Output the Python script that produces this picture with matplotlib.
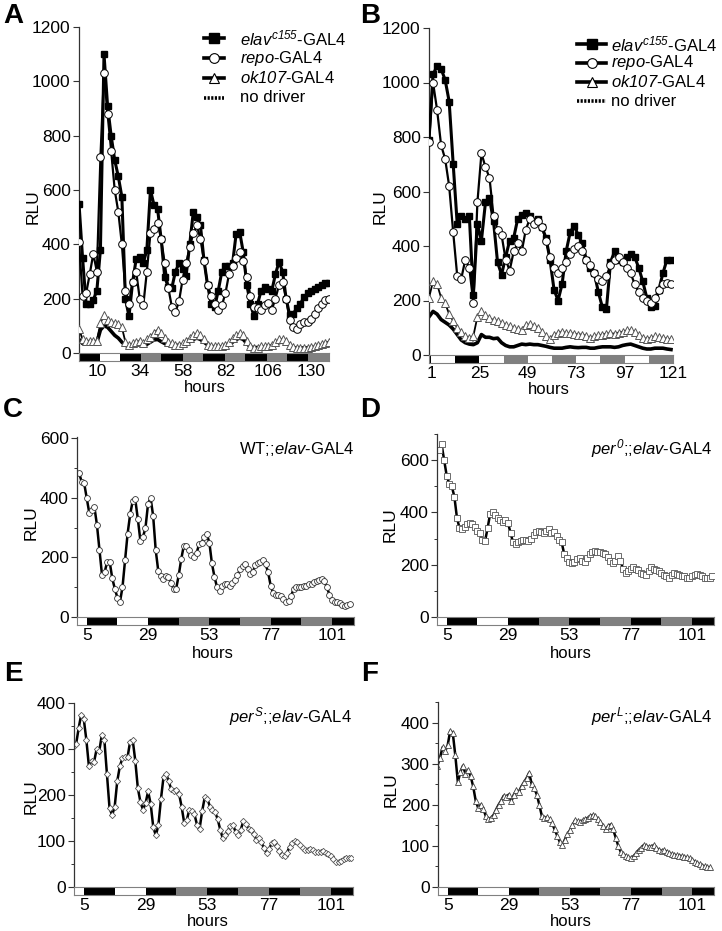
import matplotlib
matplotlib.use("Agg")
import matplotlib.pyplot as plt
import numpy as np
from matplotlib.lines import Line2D
from matplotlib.patches import Rectangle
from matplotlib.ticker import MultipleLocator

plt.rcParams['font.family'] = ['Liberation Sans', 'DejaVu Sans']
# everything inside $...$ is italic (gene names), digits included
plt.rcParams['mathtext.fontset'] = 'custom'
plt.rcParams['mathtext.rm'] = 'Liberation Sans:italic'
plt.rcParams['mathtext.it'] = 'Liberation Sans:italic'
plt.rcParams['mathtext.bf'] = 'Liberation Sans:bold'

# ---------------- data ----------------
# panel A: 2-hourly samples, hours 0..140
a_elav = [550, 350, 180, 180, 195, 230, 380, 1100, 910, 800, 710, 650, 575, 200, 135, 260,
          345, 355, 330, 380, 600, 545, 530, 420, 280, 243, 240, 300, 330, 310, 285, 400,
          519, 500, 470, 341, 250, 182, 170, 230, 300, 320, 320, 330, 439, 445, 370, 250,
          180, 135, 180, 230, 243, 235, 230, 290, 335, 300, 200, 139, 145, 165, 182, 205,
          220, 230, 237, 243, 250, 258, 258]
a_repo = [410, 210, 220, 290, 365, 300, 720, 1030, 880, 745, 600, 520, 400, 230, 180, 260,
          300, 200, 175, 300, 440, 455, 480, 420, 330, 240, 170, 150, 190, 270, 330, 390,
          440, 470, 420, 340, 250, 210, 180, 160, 175, 220, 290, 320, 350, 370, 340, 280,
          210, 170, 165, 160, 175, 185, 160, 200, 250, 260, 200, 120, 95, 90, 105, 115,
          115, 125, 145, 165, 180, 195, 200]
a_ok107 = [90, 50, 45, 45, 45, 45, 110, 140, 120, 115, 110, 105, 95, 40, 30, 35,
           40, 45, 35, 50, 60, 75, 85, 75, 55, 40, 35, 30, 30, 35, 45, 55,
           65, 72, 65, 50, 30, 25, 25, 25, 25, 30, 40, 55, 65, 72, 65, 45,
           25, 20, 20, 25, 25, 25, 30, 40, 50, 52, 45, 30, 22, 20, 20, 20,
           20, 22, 25, 28, 32, 38, 42]
a_nodrv = [50, 35, 35, 35, 35, 38, 85, 100, 95, 80, 65, 55, 40, 28, 25, 28,
           30, 30, 28, 32, 40, 48, 50, 42, 35, 30, 28, 28, 28, 30, 35, 42,
           50, 55, 50, 40, 30, 25, 22, 22, 22, 25, 30, 40, 50, 55, 50, 35,
           22, 20, 20, 20, 20, 22, 25, 30, 38, 42, 38, 28, 20, 18, 18, 18,
           18, 18, 20, 22, 25, 28, 32]
a_hours = np.arange(0, 2 * len(a_elav), 2)

# panel B: 2-hourly samples, hours 0..120
b_elav = [790, 1030, 1060, 1050, 1010, 930, 700, 480, 510, 500, 510, 220, 480, 420, 560, 575,
          490, 340, 295, 360, 420, 430, 500, 515, 520, 510, 490, 500, 470, 430, 350, 240,
          200, 260, 380, 450, 475, 440, 410, 350, 320, 300, 230, 175, 170, 340, 380, 350,
          340, 360, 370, 360, 320, 270, 210, 175, 180, 240, 300, 350, 350]
b_repo = [780, 1000, 900, 770, 720, 620, 450, 290, 280, 350, 320, 190, 560, 740, 690, 650,
          510, 460, 440, 350, 310, 380, 410, 380, 460, 500, 480, 490, 470, 420, 360, 320,
          300, 320, 340, 370, 390, 400, 380, 350, 330, 300, 280, 270, 290, 330, 350, 360,
          340, 320, 300, 260, 230, 210, 200, 190, 210, 240, 260, 265, 260]
b_ok107 = [210, 270, 260, 210, 190, 150, 125, 100, 85, 70, 62, 70, 140, 160, 145, 135,
           128, 125, 118, 110, 105, 98, 95, 92, 110, 112, 105, 100, 85, 70, 60, 75,
           80, 85, 80, 80, 78, 75, 75, 70, 62, 70, 72, 75, 78, 80, 78, 82,
           85, 90, 92, 85, 75, 62, 60, 62, 68, 65, 62, 60, 58]
b_nodrv = [140, 160, 150, 130, 120, 110, 95, 75, 55, 45, 40, 38, 45, 75, 65, 65,
           60, 62, 45, 35, 30, 30, 35, 40, 38, 40, 38, 38, 35, 32, 28, 25,
           25, 25, 28, 30, 28, 27, 28, 28, 25, 25, 28, 30, 30, 30, 28, 30,
           35, 38, 40, 35, 30, 25, 22, 22, 25, 25, 25, 22, 20]
b_hours = np.arange(0, 2 * len(b_elav), 2)

# panels C-F: hourly samples
c_wt = [485, 455, 450, 400, 350, 360, 370, 310, 225, 140, 150, 185, 185, 130, 95, 65,
        50, 100, 190, 280, 345, 390, 395, 330, 257, 268, 300, 380, 400, 340, 225, 155,
        138, 128, 138, 135, 115, 95, 95, 140, 195, 240, 240, 225, 210, 200, 215, 245,
        250, 270, 278, 250, 180, 135, 100, 88, 105, 112, 110, 105, 115, 125, 140, 160,
        170, 178, 160, 145, 150, 175, 180, 185, 190, 178, 150, 105, 80, 75, 75, 70,
        60, 52, 55, 70, 95, 100, 100, 100, 105, 105, 110, 112, 118, 120, 125, 128,
        120, 100, 75, 58, 52, 50, 48, 42, 38, 40, 45]
c_hours = np.arange(2, 2 + len(c_wt))

d_per0 = [640, 660, 600, 540, 510, 500, 460, 380, 340, 335, 345, 355, 360, 355, 345, 330,
          320, 295, 290, 340, 395, 400, 390, 378, 370, 365, 372, 360, 320, 285, 280, 285,
          290, 295, 295, 290, 300, 315, 325, 330, 325, 320, 330, 335, 320, 325, 310, 295,
          285, 240, 225, 210, 205, 210, 220, 225, 215, 210, 225, 240, 250, 252, 250, 248,
          245, 240, 230, 215, 205, 215, 235, 215, 185, 170, 175, 185, 190, 185, 180, 170,
          165, 160, 175, 190, 185, 180, 175, 170, 160, 155, 150, 160, 168, 165, 160, 158,
          155, 150, 148, 155, 160, 165, 160, 155, 150, 148, 150, 158]
d_hours = np.arange(2, 2 + len(d_per0))

e_perS = [305, 310, 345, 375, 365, 320, 262, 275, 272, 300, 295, 330, 320, 245, 172, 156,
          174, 230, 262, 280, 282, 282, 316, 320, 275, 215, 185, 168, 182, 208, 180, 130,
          112, 135, 192, 240, 246, 230, 212, 208, 210, 203, 175, 140, 145, 168, 165, 158,
          135, 127, 165, 195, 192, 175, 167, 163, 148, 125, 106, 112, 122, 133, 134, 120,
          112, 125, 143, 136, 127, 125, 116, 103, 106, 98, 84, 74, 83, 95, 97, 90,
          78, 70, 68, 75, 88, 96, 99, 98, 92, 84, 80, 80, 82, 80, 77, 76,
          77, 78, 75, 72, 67, 60, 55, 54, 57, 60, 62, 63, 64]
e_hours = np.arange(1, 1 + len(e_perS))

f_perL = [295, 315, 340, 330, 345, 380, 375, 320, 255, 280, 295, 275, 285, 270, 245, 210,
          192, 200, 190, 172, 165, 168, 175, 188, 200, 210, 222, 218, 225, 208, 225, 235,
          232, 245, 255, 265, 278, 250, 240, 225, 200, 172, 168, 170, 165, 155, 140, 125,
          110, 102, 115, 128, 138, 150, 162, 160, 158, 162, 165, 168, 172, 175, 172, 165,
          158, 148, 140, 148, 152, 140, 120, 100, 85, 80, 75, 72, 70, 75, 82, 90,
          95, 102, 100, 97, 98, 102, 95, 90, 88, 90, 86, 82, 80, 78, 77, 76,
          75, 73, 72, 70, 66, 62, 58, 55, 52, 50, 48, 48]
f_hours = np.arange(1, 1 + len(f_perL))

# light/dark bars (segment edges in hours, fill colour per segment)
ld_edges_a = [0, 11.5, 23, 34.5, 46, 58, 69.5, 81.5, 93, 105, 116.5, 128.5, 140]
ld_cols_a = ['k', 'w', 'k', 'g', 'k', 'g', 'k', 'g', 'k', 'g', 'k', 'g']
ld_edges_b = [0, 1, 13, 25, 37, 49, 61, 73, 85, 97, 109, 121]
ld_cols_b = ['k', 'w', 'k', 'w', 'g', 'w', 'g', 'w', 'g', 'w', 'g']
ld_edges_cf = [1.2, 5, 17, 29, 41, 53, 65, 77, 89, 101, 109.6]
ld_cols_cf = ['w', 'k', 'w', 'k', 'g', 'k', 'g', 'k', 'g', 'k']

xt_a = [10, 34, 58, 82, 106, 130]
xt_b = [1, 25, 49, 73, 97, 121]
xt_cf = [5, 29, 53, 77, 101]

# ---------------- layout ----------------
W, H = 722, 931
GRAY = '#808080'
COLMAP = {'k': 'black', 'w': 'white', 'g': GRAY}
FS = 12

fig = plt.figure(figsize=(W / 100, H / 100), dpi=100)


def rect(l, t, r, b):
    return [l / W, 1 - b / H, (r - l) / W, (b - t) / H]


def panel(l, t, r, b, xlim, ymax, ystep, edges, cols, xticks, minor=None):
    ax = fig.add_axes(rect(l, t, r, b))
    bar = fig.add_axes(rect(l, b, r, b + 8), sharex=ax)
    ax.set_xlim(*xlim)
    ax.set_ylim(0, ymax)
    for s in ('top', 'right', 'bottom'):
        ax.spines[s].set_visible(False)
    ax.spines['left'].set_color('#333333')
    ax.spines['left'].set_linewidth(0.9)
    ax.yaxis.set_major_locator(MultipleLocator(ystep))
    if minor:
        ax.yaxis.set_minor_locator(MultipleLocator(minor))
    ax.tick_params(axis='y', which='major', length=4, width=0.8, color='#333333',
                   labelsize=FS + 0.5, pad=2)
    ax.tick_params(axis='y', which='minor', length=2.5, width=0.7, color='#333333')
    ax.tick_params(axis='x', bottom=False, labelbottom=False)
    ax.patch.set_alpha(0)

    bar.set_ylim(0, 1)
    for x0, x1, c in zip(edges[:-1], edges[1:], cols):
        bar.add_patch(Rectangle((x0, 0), x1 - x0, 1, facecolor=COLMAP[c],
                                edgecolor='none'))
    for s in bar.spines.values():
        s.set_color(GRAY)
        s.set_linewidth(0.8)
    bar.set_yticks([])
    bar.set_xticks(xticks)
    bar.tick_params(axis='x', length=0, labelsize=FS + 0.5, pad=2)
    return ax, bar


def ftext(x, y, s, **kw):
    fig.text(x / W, 1 - y / H, s, **kw)


# ---- A ----
axA, _ = panel(79, 27, 329, 353, (0, 140), 1200, 200, ld_edges_a, ld_cols_a, xt_a)
axA.plot(a_hours, a_nodrv, color='k', lw=2.6, zorder=2)
axA.plot(a_hours, a_ok107, color='k', lw=1.3, marker='^', ms=5.5, mfc='white',
         mec='#555555', mew=0.7, zorder=3)
axA.plot(a_hours, a_elav, color='k', lw=2.2, marker='s', ms=4.8, mfc='k', mec='k', zorder=4)
axA.plot(a_hours, a_repo, color='k', lw=1.6, marker='o', ms=5.5, mfc='white',
         mec='k', mew=0.7, zorder=5)

# ---- B ----
axB, _ = panel(429, 28, 673, 355, (0, 121), 1200, 200, ld_edges_b, ld_cols_b, xt_b)
axB.plot(b_hours, b_nodrv, color='k', lw=2.6, zorder=2)
axB.plot(b_hours, b_ok107, color='k', lw=1.3, marker='^', ms=5.5, mfc='white',
         mec='#555555', mew=0.7, zorder=3)
axB.plot(b_hours, b_elav, color='k', lw=2.2, marker='s', ms=4.8, mfc='k', mec='k', zorder=4)
axB.plot(b_hours, b_repo, color='k', lw=1.6, marker='o', ms=5.5, mfc='white',
         mec='k', mew=0.7, zorder=5)

# ---- C-F ----
axC, _ = panel(77, 437, 354, 617, (1.2, 109.6), 605, 200, ld_edges_cf, ld_cols_cf, xt_cf, 100)
axC.plot(c_hours, c_wt, color='k', lw=1.8, marker='o', ms=4.2, mfc='white',
         mec='#333333', mew=0.6)
axD, _ = panel(437, 434, 714, 617, (1.2, 109.6), 700, 200, ld_edges_cf, ld_cols_cf, xt_cf, 100)
axD.plot(d_hours, d_per0, color='k', lw=1.8, marker='s', ms=4.2, mfc='white',
         mec='#555555', mew=0.6)
axE, _ = panel(74, 703, 353, 887, (1.2, 109.6), 400, 100, ld_edges_cf, ld_cols_cf, xt_cf, 50)
axE.plot(e_hours, e_perS, color='k', lw=1.8, marker='D', ms=3.2, mfc='white',
         mec='#555555', mew=0.6)
axF, _ = panel(438, 702, 714, 887, (1.2, 109.6), 450, 100, ld_edges_cf, ld_cols_cf, xt_cf, 50)
axF.plot(f_hours, f_perL, color='k', lw=1.8, marker='^', ms=4.2, mfc='white',
         mec='#444444', mew=0.6)

# ---- labels ----
for x, y in [(33, 207), (380, 207), (31, 523), (390, 525), (31, 797), (391, 790)]:
    ftext(x, y, 'RLU', rotation=90, ha='center', va='center', fontsize=FS + 0.5)
for x, y in [(205, 388), (549, 389), (213, 654), (571, 654), (208, 921), (571, 922)]:
    ftext(x, y, 'hours', ha='center', va='center', fontsize=FS)
for s, x, y in [('A', 13, 16), ('B', 370, 16), ('C', 13, 410), ('D', 370, 410),
                ('E', 13, 674), ('F', 370, 674)]:
    ftext(x, y, s, ha='center', va='center', fontsize=20, fontweight='bold')

ftext(354, 449, r'WT;;$elav$-GAL4', ha='right', va='center', fontsize=FS)
ftext(713, 449, r'$per^{0}$;;$elav$-GAL4', ha='right', va='center', fontsize=FS)
ftext(352, 717, r'$per^{S}$;;$elav$-GAL4', ha='right', va='center', fontsize=FS)
ftext(713, 717, r'$per^{L}$;;$elav$-GAL4', ha='right', va='center', fontsize=FS)

# ---- legends ----
leg_labels = [r'$elav^{c155}$-GAL4', r'$repo$-GAL4', r'$ok107$-GAL4', 'no driver']
leg_styles = [dict(color='k', lw=2.6, marker='s', ms=6.5, mfc='k', mec='k'),
              dict(color='k', lw=2.6, marker='o', ms=7, mfc='white', mec='k', mew=0.8),
              dict(color='k', lw=2.6, marker='^', ms=7, mfc='white', mec='k', mew=0.8),
              dict(color='k', lw=2.6, ls=(0, (0.6, 0.4)))]


def legend(x0, x1, xt, y0, dy):
    for i, (lab, st) in enumerate(zip(leg_labels, leg_styles)):
        y = 1 - (y0 + i * dy) / H
        if 'marker' in st:
            ln = Line2D([x0 / W, (x0 + x1) / 2 / W, x1 / W], [y, y, y], markevery=[1],
                        transform=fig.transFigure, **st)
        else:
            ln = Line2D([x0 / W, x1 / W], [y, y], transform=fig.transFigure, **st)
        fig.add_artist(ln)
        fig.text(xt / W, y, lab, ha='left', va='center', fontsize=FS)


legend(204, 224, 240, 38, 20)
legend(577, 606, 611, 44, 19)

fig.savefig('out.png', dpi=100)
